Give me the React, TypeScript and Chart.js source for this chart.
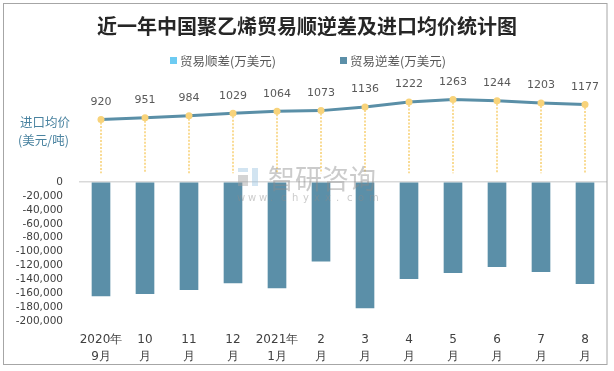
import { useEffect, useRef } from "react";
import { Chart, registerables } from "chart.js";

Chart.register(...registerables);

const titleText = "近一年中国聚乙烯贸易顺逆差及进口均价统计图";
const categories: string[][] = [
  ["2020年", "9月"], ["10", "月"], ["11", "月"], ["12", "月"],
  ["2021年", "1月"], ["2", "月"], ["3", "月"], ["4", "月"],
  ["5", "月"], ["6", "月"], ["7", "月"], ["8", "月"],
];
const surplusLabel = "贸易顺差(万美元)";
const deficitLabel = "贸易逆差(万美元)";
const priceLabel = "进口均价";
const priceUnit = "(美元/吨)";
const surplus: (number | null)[] = [null, null, null, null, null, null, null, null, null, null, null, null];
const deficit: number[] = [-163700, -160700, -155000, -145000, -152500, -113700, -181000, -139000, -130500, -121800, -129000, -146300];
const importPrice: number[] = [920, 951, 984, 1029, 1064, 1073, 1136, 1222, 1263, 1244, 1203, 1177];

const CJK = '"Noto Sans CJK SC", "Noto Sans", sans-serif';
const NUM = '"DejaVu Sans", Verdana, sans-serif';

const decorPlugin = {
  id: "decor",
  beforeDatasetsDraw(chart: any) {
    const ctx = chart.ctx;
    const meta = chart.getDatasetMeta(2);
    const zeroY = chart.scales.y.getPixelForValue(0);
    ctx.save();
    ctx.strokeStyle = "#F8D37A";
    ctx.lineWidth = 1.6;
    ctx.setLineDash([2, 1.5]);
    meta.data.forEach((pt: any) => {
      ctx.beginPath();
      ctx.moveTo(pt.x, pt.y + 3);
      ctx.lineTo(pt.x, zeroY - 9);
      ctx.stroke();
    });
    ctx.restore();
  },
  afterDatasetsDraw(chart: any) {
    const ctx = chart.ctx;
    const meta = chart.getDatasetMeta(2);
    ctx.save();
    ctx.font = `11px ${NUM}`;
    ctx.fillStyle = "#595959";
    ctx.textAlign = "center";
    ctx.textBaseline = "middle";
    meta.data.forEach((pt: any, i: number) => {
      ctx.fillText(String(importPrice[i]), pt.x, pt.y - 17.5);
    });
    // watermark
    ctx.globalAlpha = 0.45;
    ctx.fillStyle = "#8c8c8c";
    ctx.font = `27px ${CJK}`;
    ctx.textAlign = "left";
    ctx.fillText("智研咨询", 268, 179);
    ctx.font = `10px ${NUM}`;
    const url = "www.chyxx.com";
    for (let i = 0; i < url.length; i++) {
      ctx.fillText(url[i], 237 + i * 11, 198);
    }
    ctx.fillStyle = "#9cc3e0";
    ctx.fillRect(238, 168, 10, 4);
    ctx.fillRect(252, 168, 6, 18);
    ctx.fillStyle = "#a0a0a0";
    ctx.fillRect(238, 175, 10, 11);
    ctx.restore();
  },
  afterDraw(chart: any) {
    const ctx = chart.ctx;
    ctx.save();
    ctx.textBaseline = "middle";
    // title
    ctx.font = `bold 20px ${CJK}`;
    ctx.fillStyle = "#262626";
    ctx.textAlign = "center";
    ctx.fillText(titleText, 307, 26);
    // legend
    ctx.font = `12.5px ${CJK}`;
    ctx.textAlign = "left";
    ctx.fillStyle = "#6DCBF2";
    ctx.fillRect(170, 57, 7, 7);
    ctx.fillStyle = "#595959";
    ctx.fillText(surplusLabel, 180, 61);
    ctx.fillStyle = "#5B8FA8";
    ctx.fillRect(340, 57, 7, 7);
    ctx.fillStyle = "#595959";
    ctx.fillText(deficitLabel, 350, 61);
    // side label
    ctx.fillStyle = "#4A83A0";
    ctx.font = `12.5px ${CJK}`;
    ctx.fillText(priceLabel, 20, 122);
    ctx.fillText(priceUnit, 18, 140);
    // border
    ctx.strokeStyle = "#A6A6A6";
    ctx.lineWidth = 1;
    ctx.strokeRect(3.5, 3.5, 603.5, 361);
    ctx.restore();
  },
};

export default function App() {
  const ref = useRef<HTMLCanvasElement>(null);
  useEffect(() => {
    document.body.style.margin = "0";
    const chart = new Chart(ref.current!, {
      type: "bar",
      data: {
        labels: categories,
        datasets: [
          {
            type: "bar",
            label: surplusLabel,
            data: surplus,
            backgroundColor: "#6DCBF2",
            barThickness: 18,
            order: 2,
            yAxisID: "y",
          },
          {
            type: "bar",
            label: deficitLabel,
            data: deficit,
            backgroundColor: "#5B8FA8",
            barThickness: 18,
            borderWidth: 0,
            order: 1,
            yAxisID: "y",
          },
          {
            type: "line",
            label: priceLabel,
            data: importPrice,
            borderColor: "#5A8FA7",
            borderWidth: 3,
            pointRadius: 3.5,
            pointBackgroundColor: "#F8D37A",
            pointBorderWidth: 0,
            tension: 0,
            order: 0,
            yAxisID: "y1",
          } as any,
        ],
      },
      options: {
        responsive: false,
        animation: false,
        layout: { padding: { top: 85, right: 7, bottom: 0, left: 0 } },
        plugins: {
          legend: { display: false },
          title: { display: false },
          tooltip: { enabled: false },
        },
        scales: {
          x: {
            stacked: true,
            grid: { display: false },
            border: { display: false },
            ticks: {
              font: { family: NUM, size: 12, lineHeight: 1.45 },
              color: "#404040",
              padding: 2,
              maxRotation: 0,
              autoSkip: false,
            },
            afterFit: (s: any) => {
              s.height = 50;
            },
          },
          y: {
            stacked: true,
            min: -200000,
            max: 140000,
            border: { display: false },
            grid: {
              drawTicks: false,
              color: (c: any) => (c.tick && c.tick.value === 0 ? "#D9D9D9" : "rgba(0,0,0,0)"),
              lineWidth: 1.5,
            },
            ticks: {
              stepSize: 20000,
              autoSkip: false,
              padding: 16,
              color: "#404040",
              font: { family: NUM, size: 10.5 },
              callback: (v: any) => (Number(v) > 0 ? "" : Number(v).toLocaleString("en-US")),
            },
            afterFit: (s: any) => {
              s.width = 79;
            },
          },
          y1: {
            display: false,
            min: -2540,
            max: 1513,
            position: "right",
          },
        },
      },
      plugins: [decorPlugin],
    });
    return () => chart.destroy();
  }, []);
  return (
    <div style={{ width: 614, height: 371 }}>
      <canvas ref={ref} width={614} height={371} style={{ display: "block" }} />
    </div>
  );
}
